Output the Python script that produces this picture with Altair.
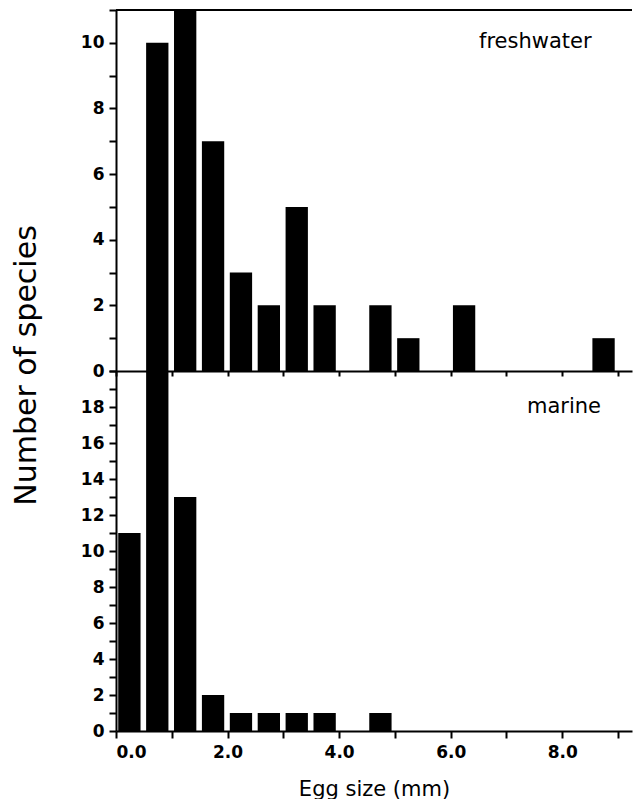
import altair as alt
import pandas as pd

# bin starts (mm, 0.5 mm bins) and species counts
fresh_bins = [0.5, 1.0, 1.5, 2.0, 2.5, 3.0, 3.5, 4.5, 5.0, 6.0, 8.5]
fresh_counts = [10, 11, 7, 3, 2, 5, 2, 2, 1, 2, 1]
marine_bins = [0.0, 0.5, 1.0, 1.5, 2.0, 2.5, 3.0, 3.5, 4.5]
marine_counts = [11, 20, 13, 2, 1, 1, 1, 1, 1]

x_ticks = [0, 1, 2, 3, 4, 5, 6, 7, 8, 9]
fresh_y_ticks = list(range(0, 12))
marine_y_ticks = list(range(0, 21))
panel_labels = ["freshwater", "marine"]
x_title = "Egg size (mm)"
y_title = "Number of species"

W = 516
XMAX = 9.25
FONT = "DejaVu Sans"


def panel(bins, counts, ymax, yticks, label, bottom, h, lx, ly):
    df = pd.DataFrame({"lo": bins, "n": counts})
    if bottom:
        xaxis = alt.Axis(values=x_ticks, title=x_title, grid=False, tickSize=7,
                         labelPadding=6, titlePadding=18,
                         labelExpr="datum.value % 2 == 0 ? format(datum.value, '.1f') : ''")
    else:
        xaxis = alt.Axis(values=x_ticks, labels=False, title=None, grid=False, tickSize=5)
    if bottom:
        ylab = "datum.value % 2 == 0 && datum.value < 20 ? datum.label : ''"
        yaxis = alt.Axis(values=yticks, title=None, grid=False, tickSize=7,
                         labelPadding=5, labelExpr=ylab)
    else:
        ylab = "datum.value % 2 == 0 ? datum.label : ''"
        yaxis = alt.Axis(values=yticks, title=y_title, grid=False, tickSize=7,
                         labelPadding=5, labelExpr=ylab, titleX=-81, titleY=355,
                         titleBaseline="alphabetic", titleFontSize=30,
                         titleFontWeight="normal", titleAngle=270)
    bars = alt.Chart(df).transform_calculate(
        a="datum.lo + 0.04", b="datum.lo + 0.44", z="0"
    ).mark_bar(color="black", clip=True).encode(
        x=alt.X("a:Q", scale=alt.Scale(domain=[0, XMAX], nice=False, zero=False), axis=xaxis),
        x2="b:Q",
        y=alt.Y("n:Q", scale=alt.Scale(domain=[0, ymax], nice=False), axis=yaxis),
        y2="z:Q",
    )
    ldf = pd.DataFrame({"t": [label]})
    txt = alt.Chart(ldf).mark_text(font=FONT, fontSize=21, color="black",
                                   align="left", baseline="alphabetic").encode(
        text="t:N", x=alt.value(lx), y=alt.value(ly)
    )
    layers = [bars, txt]
    if not bottom:
        rule = alt.Chart(ldf).mark_rule(color="black", strokeWidth=2).encode(
            x=alt.value(0), x2=alt.value(W), y=alt.value(0)
        )
        layers.append(rule)
    return alt.layer(*layers).properties(width=W, height=h)


top = panel(fresh_bins, fresh_counts, 11, fresh_y_ticks, panel_labels[0], False, 361, 363, 38)
bot = panel(marine_bins, marine_counts, 20, marine_y_ticks, panel_labels[1], True, 360, 411, 42)

chart = alt.vconcat(top, bot, spacing=0, bounds="flush").properties(
    padding={"left": 3, "top": 1, "right": 0, "bottom": 0}
).configure_view(stroke=None).configure_axis(
    domainColor="black", domainWidth=2, tickColor="black", tickWidth=2,
    labelColor="black", labelFont=FONT, labelFontWeight="bold", labelFontSize=17,
    titleColor="black", titleFont=FONT, titleFontWeight="normal", titleFontSize=21,
)

chart.save("out.html", embed_options={"renderer": "svg", "actions": False})
